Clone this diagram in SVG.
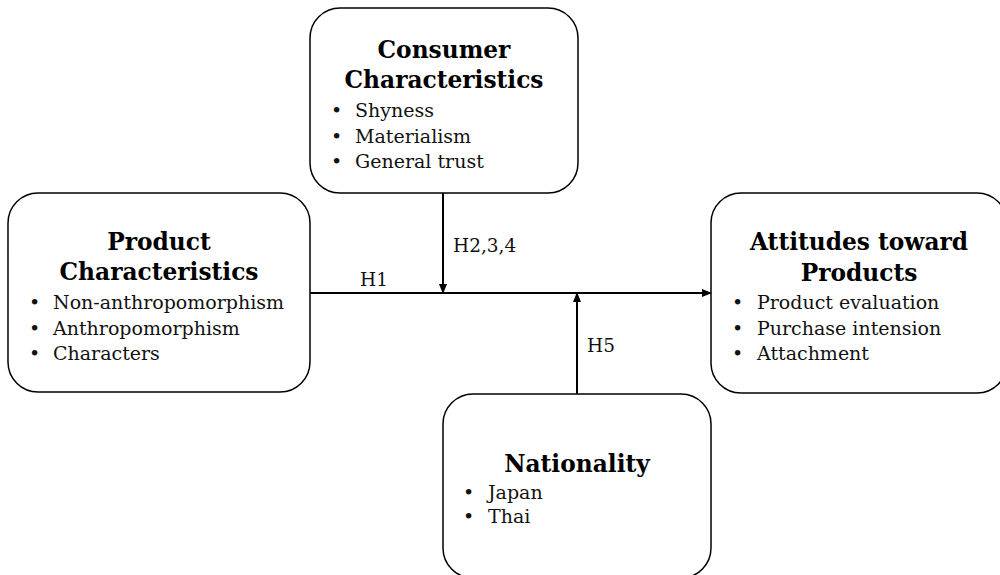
<svg xmlns="http://www.w3.org/2000/svg" width="1000" height="575" viewBox="0 0 1000 575">
<style>
.box{fill:#fff;stroke:#000;stroke-width:1.5}
.t{font-family:"DejaVu Serif","Liberation Serif",serif;font-weight:bold;font-size:23.3px;fill:#000;text-anchor:middle}
.b{font-family:"DejaVu Serif","Liberation Serif",serif;font-size:19px;fill:#111}
.h{font-family:"DejaVu Serif","Liberation Serif",serif;font-size:18.5px;fill:#111}
.c{stroke:#000;stroke-width:2;fill:none}
</style>
<defs>
<marker id="ah" markerWidth="10" markerHeight="8" refX="9" refY="4" orient="auto" markerUnits="userSpaceOnUse">
<path d="M0,0 L10,4 L0,8 Z" fill="#000"/>
</marker>
</defs>
<rect width="1000" height="575" fill="#fff"/>
<g id="connectors">
<line class="c" x1="310" y1="293" x2="711" y2="293" marker-end="url(#ah)"/>
<line class="c" x1="443" y1="193" x2="443" y2="293" marker-end="url(#ah)"/>
<line class="c" x1="577" y1="394" x2="577" y2="293" marker-end="url(#ah)"/>
<text class="h" x="360" y="286">H1</text>
<text class="h" x="453" y="252">H2,3,4</text>
<text class="h" x="587" y="352">H5</text>
</g>
<g id="consumer">
<rect class="box" x="310" y="8" width="268" height="185" rx="30"/>
<text class="t" x="444" y="58">Consumer</text>
<text class="t" x="444" y="88">Characteristics</text>
<text class="b" x="331" y="117">•</text><text class="b" x="355" y="117">Shyness</text>
<text class="b" x="331" y="143">•</text><text class="b" x="355" y="143">Materialism</text>
<text class="b" x="331" y="168">•</text><text class="b" x="355" y="168">General trust</text>
</g>
<g id="product">
<rect class="box" x="8" y="193" width="302" height="199" rx="30"/>
<text class="t" x="159" y="250">Product</text>
<text class="t" x="159" y="280">Characteristics</text>
<text class="b" x="29" y="309">•</text><text class="b" x="53" y="309">Non-anthropomorphism</text>
<text class="b" x="29" y="335">•</text><text class="b" x="53" y="335">Anthropomorphism</text>
<text class="b" x="29" y="360">•</text><text class="b" x="53" y="360">Characters</text>
</g>
<g id="attitudes">
<rect class="box" x="711" y="193" width="296" height="200" rx="30"/>
<text class="t" x="859" y="250">Attitudes toward</text>
<text class="t" x="859" y="281">Products</text>
<text class="b" x="732" y="309">•</text><text class="b" x="757" y="309">Product evaluation</text>
<text class="b" x="732" y="335">•</text><text class="b" x="757" y="335">Purchase intension</text>
<text class="b" x="732" y="360">•</text><text class="b" x="757" y="360">Attachment</text>
</g>
<g id="nationality">
<rect class="box" x="443" y="394" width="268" height="184" rx="30"/>
<text class="t" x="577" y="472">Nationality</text>
<text class="b" x="463" y="499">•</text><text class="b" x="488" y="499">Japan</text>
<text class="b" x="463" y="523">•</text><text class="b" x="488" y="523">Thai</text>
</g>
</svg>
